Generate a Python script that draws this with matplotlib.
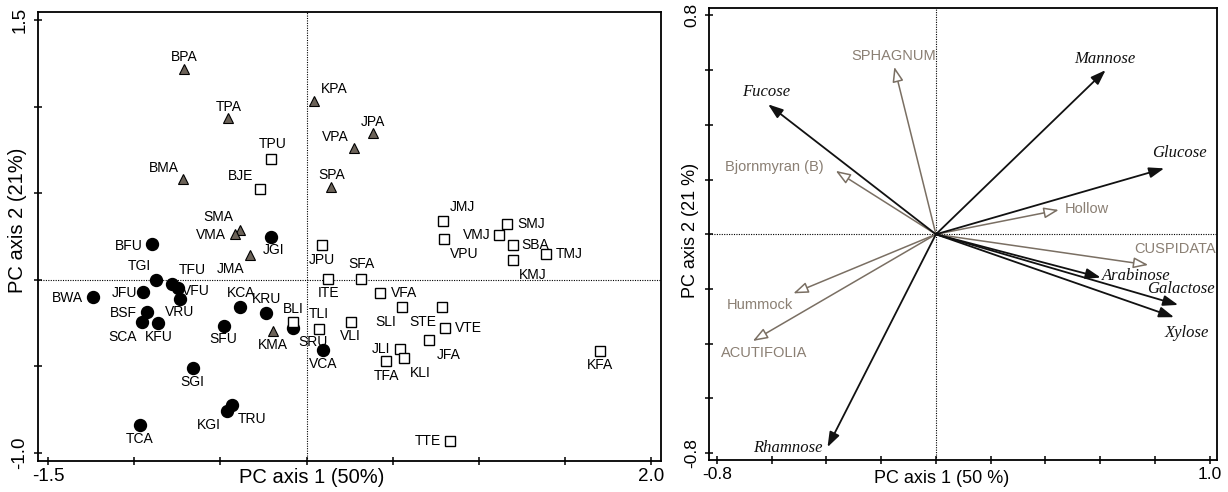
import matplotlib
matplotlib.use("Agg")
import matplotlib.pyplot as plt

# ---------------- data: left panel (sample scores) ----------------
circle_names = ["BFU", "JGI", "TGI", "TFU", "VFU", "VRU", "BWA", "JFU", "BSF", "SCA", "KFU",
                "SFU", "KCA", "KRU", "SRU", "VCA", "SGI", "KGI", "TRU", "TCA"]
circle_x = [-0.897, -0.206, -0.872, -0.778, -0.745, -0.735, -1.241, -0.950, -0.926, -0.954, -0.859,
            -0.481, -0.386, -0.236, -0.081, 0.097, -0.660, -0.459, -0.430, -0.969]
circle_y = [0.208, 0.247, -0.004, -0.023, -0.049, -0.114, -0.101, -0.074, -0.188, -0.247, -0.251,
            -0.269, -0.159, -0.193, -0.278, -0.404, -0.512, -0.757, -0.722, -0.838]

triangle_names = ["BPA", "TPA", "KPA", "BMA", "SPA", "JPA", "VPA", "SMA", "VMA", "JMA", "KMA"]
triangle_x = [-0.710, -0.453, 0.042, -0.714, 0.143, 0.384, 0.274, -0.388, -0.415, -0.328, -0.197]
triangle_y = [1.216, 0.932, 1.034, 0.579, 0.533, 0.845, 0.758, 0.285, 0.262, 0.145, -0.298]

square_names = ["TPU", "BJE", "JMJ", "SMJ", "VMJ", "VPU", "SBA", "TMJ", "KMJ", "JPU", "ITE",
                "SFA", "VFA", "SLI", "STE", "BLI", "TLI", "VLI", "VTE", "JFA", "JLI", "KLI",
                "TFA", "KFA", "TTE"]
square_x = [-0.204, -0.272, 0.791, 1.162, 1.118, 0.798, 1.195, 1.390, 1.197, 0.091, 0.126,
            0.315, 0.425, 0.556, 0.784, -0.077, 0.071, 0.255, 0.803, 0.712, 0.544, 0.566,
            0.461, 1.704, 0.830]
square_y = [0.698, 0.521, 0.336, 0.324, 0.255, 0.237, 0.200, 0.146, 0.116, 0.199, 0.004,
            0.004, -0.075, -0.156, -0.156, -0.245, -0.286, -0.247, -0.282, -0.346, -0.400, -0.452,
            -0.471, -0.413, -0.931]

# ---------------- data: right panel (biplot arrows) ----------------
sugar_names = ["Fucose", "Mannose", "Glucose", "Arabinose", "Galactose", "Xylose", "Rhamnose"]
sugar_x = [-0.613, 0.620, 0.834, 0.602, 0.885, 0.870, -0.396]
sugar_y = [0.475, 0.600, 0.241, -0.158, -0.258, -0.303, -0.778]

env_names = ["SPHAGNUM", "Bjornmyran (B)", "Hollow", "CUSPIDATA", "Hummock", "ACUTIFOLIA"]
env_x = [-0.152, -0.366, 0.449, 0.776, -0.521, -0.669]
env_y = [0.612, 0.232, 0.089, -0.112, -0.216, -0.390]

# ---------------- layout / style (label offsets in pixels) ----------------
point_label_offsets = {
    "BPA": (0, 12), "TPA": (0, 11), "KPA": (20, 12), "BMA": (-20, 11), "TPU": (1, 15),
    "BJE": (-19, 13), "SPA": (0, 12), "JPA": (0, 11), "VPA": (-18, 11), "SMA": (-21, 13),
    "VMA": (-24, -1), "JGI": (3, -13), "BFU": (-23, -2), "JMA": (-19, -14), "TGI": (-17, 14),
    "TFU": (20, 14), "VFU": (18, -3), "VRU": (0, -13), "BWA": (-25, -1), "JFU": (-18, -1),
    "BSF": (-24, -1), "SCA": (-20, -15), "KFU": (0, -14), "KCA": (1, 14), "KRU": (1, 14),
    "SFU": (0, -13), "KMA": (0, -14), "BLI": (0, 13), "SRU": (20, -14), "TLI": (0, 15),
    "VCA": (0, -14), "SGI": (0, -14), "KGI": (-19, -14), "TRU": (20, -14), "TCA": (0, -14),
    "JPU": (0, -15), "ITE": (0, -14), "SFA": (1, 15), "VFA": (24, 0), "SLI": (-17, -15),
    "STE": (-19, -15), "VLI": (0, -14), "VTE": (23, 0), "JFA": (19, -15), "JLI": (-19, 0),
    "TFA": (0, -15), "KLI": (16, -15), "KFA": (0, -14), "TTE": (-22, 0), "JMJ": (19, 14),
    "SMJ": (24, 0), "VMJ": (-23, 0), "VPU": (20, -15), "SBA": (23, 0), "TMJ": (23, 0),
    "KMJ": (20, -15),
}
arrow_label_layout = {
    "Fucose": ((-2, 12), "center"), "Mannose": ((-1, 11), "center"), "Glucose": ((15, 15), "center"),
    "Arabinose": ((1, 2), "left"), "Galactose": ((3, 16), "center"), "Xylose": ((13, -16), "center"),
    "Rhamnose": ((-5, -1), "right"),
    "SPHAGNUM": ((-1, 11), "center"), "Bjornmyran (B)": ((-12, 4), "right"), "Hollow": ((6, 1), "left"),
    "CUSPIDATA": ((27, 16), "center"), "Hummock": ((-33, -12), "center"), "ACUTIFOLIA": ((11, -12), "center"),
}

SANS = "Liberation Sans"
SERIF = "Liberation Serif"
GRAY_LINE = "#7a6f63"
GRAY_TEXT = "#8a7f73"
TRI_FILL = "#6b6258"

W, H = 1228, 492
fig = plt.figure(figsize=(W / 100, H / 100), dpi=100)


def px_axes(l, t, r, b):
    return fig.add_axes([l / W, 1 - b / H, (r - l) / W, (b - t) / H])


def style_axes(ax):
    for s in ax.spines.values():
        s.set_linewidth(1.3)
        s.set_color("black")
    ax.tick_params(direction="inout", length=6, width=1.1, colors="black",
                   labelsize=13.5, pad=2)
    for lab in ax.get_yticklabels():
        lab.set_rotation(90)
        lab.set_va("center")
    ax.axhline(0, color="black", lw=0.8, ls=(0, (1, 1.2)), zorder=0)
    ax.axvline(0, color="black", lw=0.8, ls=(0, (1, 1.2)), zorder=0)


# ---------------- left panel ----------------
ax1 = px_axes(38, 12, 661, 460.7)
ax1.set_xlim(-1.558, 2.056)
ax1.set_ylim(-1.046, 1.546)
xt = [-1.5, -1.0, -0.5, 0.0, 0.5, 1.0, 1.5, 2.0]
ax1.set_xticks(xt)
ax1.set_xticklabels(["-1.5", "", "", "", "", "", "", "2.0"], family=SANS)
yt = [-1.0, -0.5, 0.0, 0.5, 1.0, 1.5]
ax1.set_yticks(yt)
ax1.set_yticklabels(["-1.0", "", "", "", "", "1.5"], family=SANS)
style_axes(ax1)
ax1.tick_params(axis="y", pad=4)

ax1.plot(circle_x, circle_y, ls="none", marker="o", ms=8.6, mfc="black", mec="black", zorder=3)
ax1.plot(triangle_x, triangle_y, ls="none", marker="^", ms=7.8, mfc=TRI_FILL, mec="black",
         mew=0.8, zorder=3)
ax1.plot(square_x, square_y, ls="none", marker="s", ms=7.5, mfc="white", mec="black",
         mew=1.0, zorder=3)

for names, xs, ys in ((circle_names, circle_x, circle_y),
                      (triangle_names, triangle_x, triangle_y),
                      (square_names, square_x, square_y)):
    for n, x, y in zip(names, xs, ys):
        dx, dy = point_label_offsets[n]
        ax1.annotate(n, (x, y), xytext=(dx, dy), textcoords="offset pixels",
                     ha="center", va="center", fontsize=10, family=SANS, zorder=4)

ax1.set_xlabel("PC axis 1 (50%)", fontsize=14.5, family=SANS)
ax1.xaxis.set_label_coords((312 - 38) / 623, -0.017)
ax1.set_ylabel("PC axis 2 (21%)", fontsize=14.5, family=SANS)
ax1.yaxis.set_label_coords(-0.017, 0.535)

# ---------------- right panel ----------------
ax2 = px_axes(709, 7.5, 1217, 460)
ax2.set_xlim(-0.829, 1.027)
ax2.set_ylim(-0.825, 0.829)
ax2.set_xticks([-0.8, -0.6, -0.4, -0.2, 0.0, 0.2, 0.4, 0.6, 0.8, 1.0])
ax2.set_xticklabels(["-0.8"] + [""] * 8 + ["1.0"], family=SANS)
ax2.set_yticks([-0.8, -0.6, -0.4, -0.2, 0.0, 0.2, 0.4, 0.6, 0.8])
ax2.set_yticklabels(["-0.8"] + [""] * 7 + ["0.8"], family=SANS)
style_axes(ax2)
ax2.tick_params(labelsize=12.5)
ax2.tick_params(axis="y", pad=4)

for n, x, y in zip(env_names, env_x, env_y):
    ax2.annotate("", xy=(x, y), xytext=(0, 0),
                 arrowprops=dict(arrowstyle="-|>,head_length=0.9,head_width=0.33",
                                 fc="white", ec=GRAY_LINE, lw=1.1, shrinkA=0, shrinkB=0),
                 zorder=2)
    (dx, dy), ha = arrow_label_layout[n]
    ax2.annotate(n, (x, y), xytext=(dx, dy), textcoords="offset pixels", ha=ha, va="center",
                 fontsize=10.5, family=SANS, color=GRAY_TEXT, zorder=4)

for n, x, y in zip(sugar_names, sugar_x, sugar_y):
    ax2.annotate("", xy=(x, y), xytext=(0, 0),
                 arrowprops=dict(arrowstyle="-|>,head_length=0.9,head_width=0.32",
                                 fc="#111111", ec="#111111", lw=1.3, shrinkA=0, shrinkB=0),
                 zorder=3)
    (dx, dy), ha = arrow_label_layout[n]
    ax2.annotate(n, (x, y), xytext=(dx, dy), textcoords="offset pixels", ha=ha, va="center",
                 fontsize=12, family=SERIF, style="italic", color="#111111", zorder=4)

ax2.set_xlabel("PC axis 1 (50 %)", fontsize=13, family=SANS)
ax2.xaxis.set_label_coords(0.458, -0.022)
ax2.set_ylabel("PC axis 2 (21 %)", fontsize=13, family=SANS)
ax2.yaxis.set_label_coords(-0.02, 0.508)

fig.savefig("out.png", dpi=100)
